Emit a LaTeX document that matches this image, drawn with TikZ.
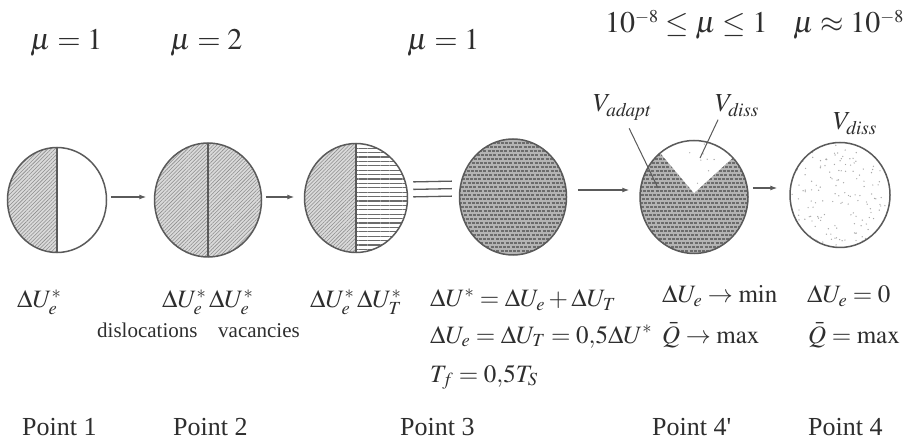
\documentclass[tikz,border=0pt]{standalone}
\usepackage{mathptmx}
\usepackage{fontspec}
\setmainfont{Liberation Serif}
\usetikzlibrary{arrows.meta,shapes.geometric,patterns.meta}
\definecolor{rimgray}{HTML}{5A5A5A}
\definecolor{hatchbg}{HTML}{DADADA}
\definecolor{hatchgray}{HTML}{8C8C8C}
\definecolor{stripebg}{HTML}{B4B4B4}
\definecolor{stripedark}{HTML}{6C6C6C}
\definecolor{dotgray}{HTML}{A8A8A8}
\definecolor{inkgray}{HTML}{2E2E2E}
\tikzset{
  grain/.style 2 args={ellipse,draw=rimgray,line width=1.5pt,inner sep=0pt,minimum width=#1,minimum height=#2},
  hatch/.style={pattern={Lines[angle=45,distance=2.6pt,line width=0.55pt]},pattern color=hatchgray},
  stripes/.style={pattern={Lines[angle=0,distance=4.4pt,line width=1.2pt]},pattern color=stripedark},
  striperow/.style={draw=stripedark,line width=1.6pt,dash pattern=on 3pt off 1.2pt},
  divider/.style={draw=rimgray,line width=1.4pt},
  arrow/.style={-{Latex[length=7pt,width=5pt]},line width=1.2pt,draw=rimgray},
  triple/.style={line width=1.3pt,draw=rimgray},
  leader/.style={line width=1pt,draw=rimgray},
  eq/.style={anchor=base west,inner sep=0pt,text=inkgray,font=\fontsize{25}{29}\selectfont},
  mulabel/.style={anchor=base west,inner sep=0pt,text=inkgray,font=\fontsize{30}{34}\selectfont},
  word/.style={anchor=base west,inner sep=0pt,text=inkgray,font=\fontsize{21}{24}\selectfont},
  pointlabel/.style={anchor=base west,inner sep=0pt,text=inkgray,font=\fontsize{26}{30}\selectfont}
}
% hatched half of a grain: #1 = west or east
\newcommand{\halfhatch}[1]{%
  \fill[hatchbg] (path picture bounding box.north #1) rectangle (path picture bounding box.south);
  \fill[hatch] (path picture bounding box.north #1) rectangle (path picture bounding box.south);}
\newcommand{\stripefill}{%
  \fill[stripebg] (path picture bounding box.south west) rectangle (path picture bounding box.north east);
  \foreach \dy [count=\r] in {-62,-58,...,62}{
    \draw[striperow,dash phase=\r*1.7pt] ([yshift=\dy pt]path picture bounding box.west) -- ([yshift=\dy pt]path picture bounding box.east);}}
\newcommand{\stipplefill}[3]{%
  \foreach \k in {1,...,#1}{
    \fill[dotgray,shift={(path picture bounding box.center)}] ({#2*rand},{#3*rand}) circle (0.7pt);}}
\begin{document}
\begin{tikzpicture}[x=1pt,y=-1pt]
  \useasboundingbox[fill=white] (0,0) rectangle (904,443);
  \pgfmathsetseed{17}
  % grains
  \node[grain={99}{105},path picture={\halfhatch{west}
      \draw[divider] (path picture bounding box.north) -- (path picture bounding box.south);}] (c1) at (57,200) {};
  \node[grain={107}{114},path picture={\halfhatch{west}\halfhatch{east}
      \draw[divider] (path picture bounding box.north) -- (path picture bounding box.south);}] (c2) at (208,200) {};
  \node[grain={103}{109},path picture={\halfhatch{west}
      \fill[stripes] (path picture bounding box.north east) rectangle (path picture bounding box.south);
      \draw[divider] (path picture bounding box.north) -- (path picture bounding box.south);}] (c3) at (356,198) {};
  \node[grain={107}{116},path picture={\stripefill}] (c4) at (513,197) {};
  \node[grain={108}{113},path picture={\stripefill
      \begin{scope}[shift={(path picture bounding box.center)}]
        \clip (0,-4) -- (-76,-94) -- (90,-86) -- cycle;
        \fill[white] (-80,-100) rectangle (95,0);
        \stipplefill{50}{55}{58}
      \end{scope}}] (c5) at (694,197) {};
  \node[grain={100}{105},path picture={\stipplefill{190}{52}{55}}] (c6) at (840,195) {};
  % connectors
  \draw[arrow,shorten <=3.5pt,shorten >=7.5pt] ([yshift=3pt]c1.east) -- ([yshift=3pt]c2.west);
  \draw[arrow,shorten <=3.5pt,shorten >=9.5pt] ([yshift=3pt]c2.east) -- ([yshift=1pt]c3.west);
  \foreach \dy in {1,8.5,16}
    \draw[triple,shorten <=5pt,shorten >=7pt] ([yshift=\dy pt]c3.east) -- ([yshift=\dy pt]c4.west);
  \draw[arrow,shorten <=10.5pt,shorten >=10pt] ([yshift=7pt]c4.east) -- ([yshift=7pt]c5.west);
  \draw[arrow,shorten <=4pt,shorten >=12pt] ([yshift=9pt]c5.east) -- ([yshift=7pt]c6.west);
  % volume labels
  \node[eq,font=\fontsize{26}{30}\selectfont] (vadapt) at (593,112) {$V_{\mathit{adapt}}$};
  \node[eq,font=\fontsize{26}{30}\selectfont] (vdiss) at (715,112) {$V_{\mathit{diss}}$};
  \node[eq,font=\fontsize{26}{30}\selectfont] (vdisstwo) at (833,130) {$V_{\mathit{diss}}$};
  \coordinate (adaptend) at (658,188);
  \coordinate (dissend) at (700,158);
  \draw[leader] ([xshift=7pt,yshift=-8pt]vadapt.south) -- (adaptend);
  \draw[leader] ([xshift=-19pt,yshift=-3pt]vdiss.south) -- (dissend);
  % coefficients
  \node[mulabel] (mu1) at (30,50) {$\mu=1$};
  \node[mulabel] (mu2) at (170,50) {$\mu=2$};
  \node[mulabel] (mu3) at (407,50) {$\mu=1$};
  \node[mulabel] (mu4) at (605,33) {$10^{\scriptscriptstyle -8}\le\mu\le1$};
  \node[mulabel] (mu5) at (793,33) {$\mu\approx10^{\scriptscriptstyle -8}$};
  % energies
  \node[eq] (du1) at (17,308) {$\Delta U_e^*$};
  \node[eq] (du2) at (162,308) {$\Delta U_e^*\,\Delta U_e^*$};
  \node[word] (disl) at (97,337) {dislocations};
  \node[word] (vac) at (218,337) {vacancies};
  \node[eq] (du3) at (310,308) {$\Delta U_e^*\,\Delta U_T^*$};
  \node[eq] (eqa) at (430,307) {$\Delta U^*=\Delta U_e+\Delta U_T$};
  \node[eq] (eqb) at (430,343) {$\Delta U_e=\Delta U_T=0{,}5\Delta U^*$};
  \node[eq] (eqc) at (430,382) {$T_f=0{,}5T_S$};
  \node[eq] (eqd) at (662,303) {$\Delta U_e\rightarrow\min$};
  \node[eq] (eqe) at (662,343) {$\bar{Q}\rightarrow\max$};
  \node[eq] (eqf) at (807,303) {$\Delta U_e=0$};
  \node[eq] (eqg) at (808,343) {$\bar{Q}=\max$};
  % points
  \node[pointlabel] (pt1) at (22,435) {Point 1};
  \node[pointlabel] (pt2) at (173,435) {Point 2};
  \node[pointlabel] (pt3) at (400,435) {Point 3};
  \node[pointlabel] (pt4p) at (652,435) {Point 4\textquotesingle};
  \node[pointlabel] (pt4) at (808,435) {Point 4};
\end{tikzpicture}
\end{document}
